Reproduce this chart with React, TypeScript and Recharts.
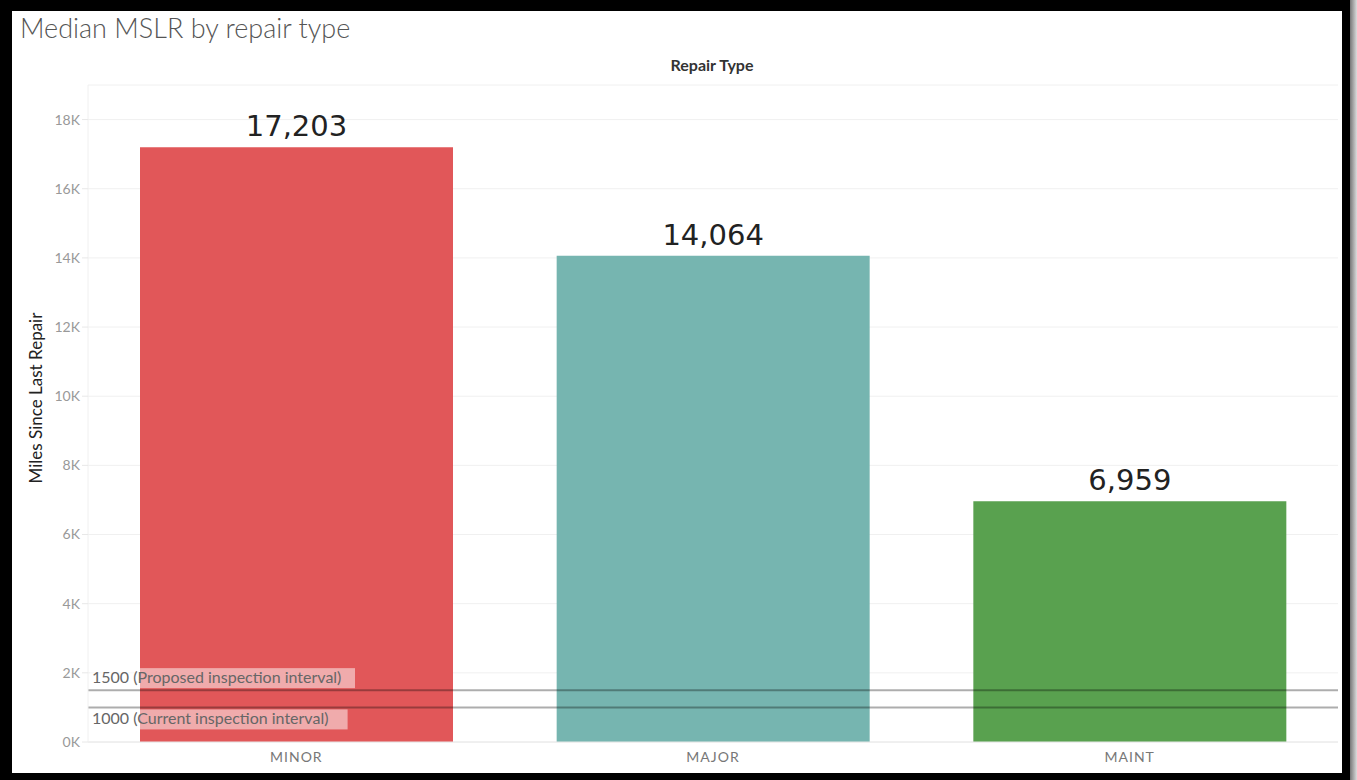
import React from "react";
import {
  BarChart,
  Bar,
  Cell,
  CartesianGrid,
  XAxis,
  YAxis,
  ReferenceLine,
  LabelList,
} from "recharts";

// repair categories and their median miles since last repair
const repairTypes = ["MINOR", "MAJOR", "MAINT"];
const medianMiles = [17203, 14064, 6959];
const barColors = ["#e15759", "#76b5b0", "#59a14f"];
const yTicks = [0, 2000, 4000, 6000, 8000, 10000, 12000, 14000, 16000, 18000];

// inspection interval reference lines
const intervalValues = [1500, 1000];
const intervalLabels = [
  "1500 (Proposed inspection interval)",
  "1000 (Current inspection interval)",
];

const data = repairTypes.map((type, i) => ({
  type,
  miles: medianMiles[i],
}));

const font = "Lato, 'Open Sans', sans-serif";

function IntervalLabel(props: any) {
  const { viewBox, value, below } = props;
  if (!viewBox) return null;
  const x = viewBox.x + 4;
  const w = value.length * 7.4 + 6;
  const top = below ? viewBox.y + 2 : viewBox.y - 22;
  return (
    <g>
      <rect x={x - 2} y={top} width={w} height={20} fill="#ffffff" fillOpacity={0.5} />
      <text x={x} y={top + 15} fill="#666" fontSize={16} fontFamily={font}>
        {value}
      </text>
    </g>
  );
}

export default function App() {
  return (
    <div
      style={{
        position: "absolute",
        left: 0,
        top: 0,
        width: 1357,
        height: 780,
        background: "#000",
        fontFamily: font,
      }}
    >
      <div
        style={{
          position: "absolute",
          left: 1350,
          top: 0,
          width: 7,
          height: 780,
          background: "linear-gradient(to right, #777, #ddd)",
        }}
      />
      <div
        style={{
          position: "absolute",
          left: 12,
          top: 11,
          width: 1330,
          height: 762,
          background: "#fff",
        }}
      />
      <div
        style={{
          position: "absolute",
          left: 20,
          top: 11,
          fontSize: 27,
          fontWeight: 300,
          color: "#555",
          whiteSpace: "nowrap",
        }}
      >
        Median MSLR by repair type
      </div>
      <div
        style={{
          position: "absolute",
          left: 612,
          width: 200,
          top: 55,
          textAlign: "center",
          fontSize: 16,
          fontWeight: 700,
          color: "#333",
        }}
      >
        Repair Type
      </div>
      <div
        style={{
          position: "absolute",
          left: 36 - 150,
          width: 300,
          top: 398 - 10,
          height: 20,
          lineHeight: "20px",
          textAlign: "center",
          fontSize: 17,
          fontWeight: 400,
          color: "#222",
          transform: "rotate(-90deg)",
        }}
      >
        Miles Since Last Repair
      </div>
      <div style={{ position: "absolute", left: 0, top: 0 }}>
        <BarChart
          width={1357}
          height={780}
          data={data}
          margin={{ top: 85, right: 19, bottom: 8, left: 0 }}
        >
          <CartesianGrid vertical={false} stroke="#f0f0f0" />
          <XAxis
            dataKey="type"
            height={30}
            axisLine={{ stroke: "#e8e8e8" }}
            tickLine={false}
            tickSize={0}
            tickMargin={10}
            tick={{ fill: "#777", fontSize: 14, fontFamily: font, letterSpacing: 1 }}
          />
          <YAxis
            width={88}
            domain={[0, 19000]}
            ticks={yTicks}
            tickFormatter={(v: number) => `${v / 1000}K`}
            axisLine={{ stroke: "#f0f0f0" }}
            tickLine={{ stroke: "#e8e8e8" }}
            tickSize={6}
            tickMargin={2}
            tick={{ fill: "#999", fontSize: 14, fontFamily: font }}
          />
          <Bar dataKey="miles" barSize={313} isAnimationActive={false}>
            {data.map((d, i) => (
              <Cell key={d.type} fill={barColors[i]} />
            ))}
            <LabelList
              dataKey="miles"
              position="top"
              offset={11}
              formatter={(v: any) => Number(v).toLocaleString("en-US")}
              fill="#222"
              fontSize={29}
              fontFamily="'DejaVu Sans', Verdana, sans-serif"
            />
          </Bar>
          {intervalValues.map((v, i) => (
            <ReferenceLine
              key={v}
              y={v}
              stroke="#000"
              strokeOpacity={0.32}
              strokeWidth={2}
              label={<IntervalLabel value={intervalLabels[i]} below={i === 1} />}
            />
          ))}
        </BarChart>
      </div>
    </div>
  );
}
